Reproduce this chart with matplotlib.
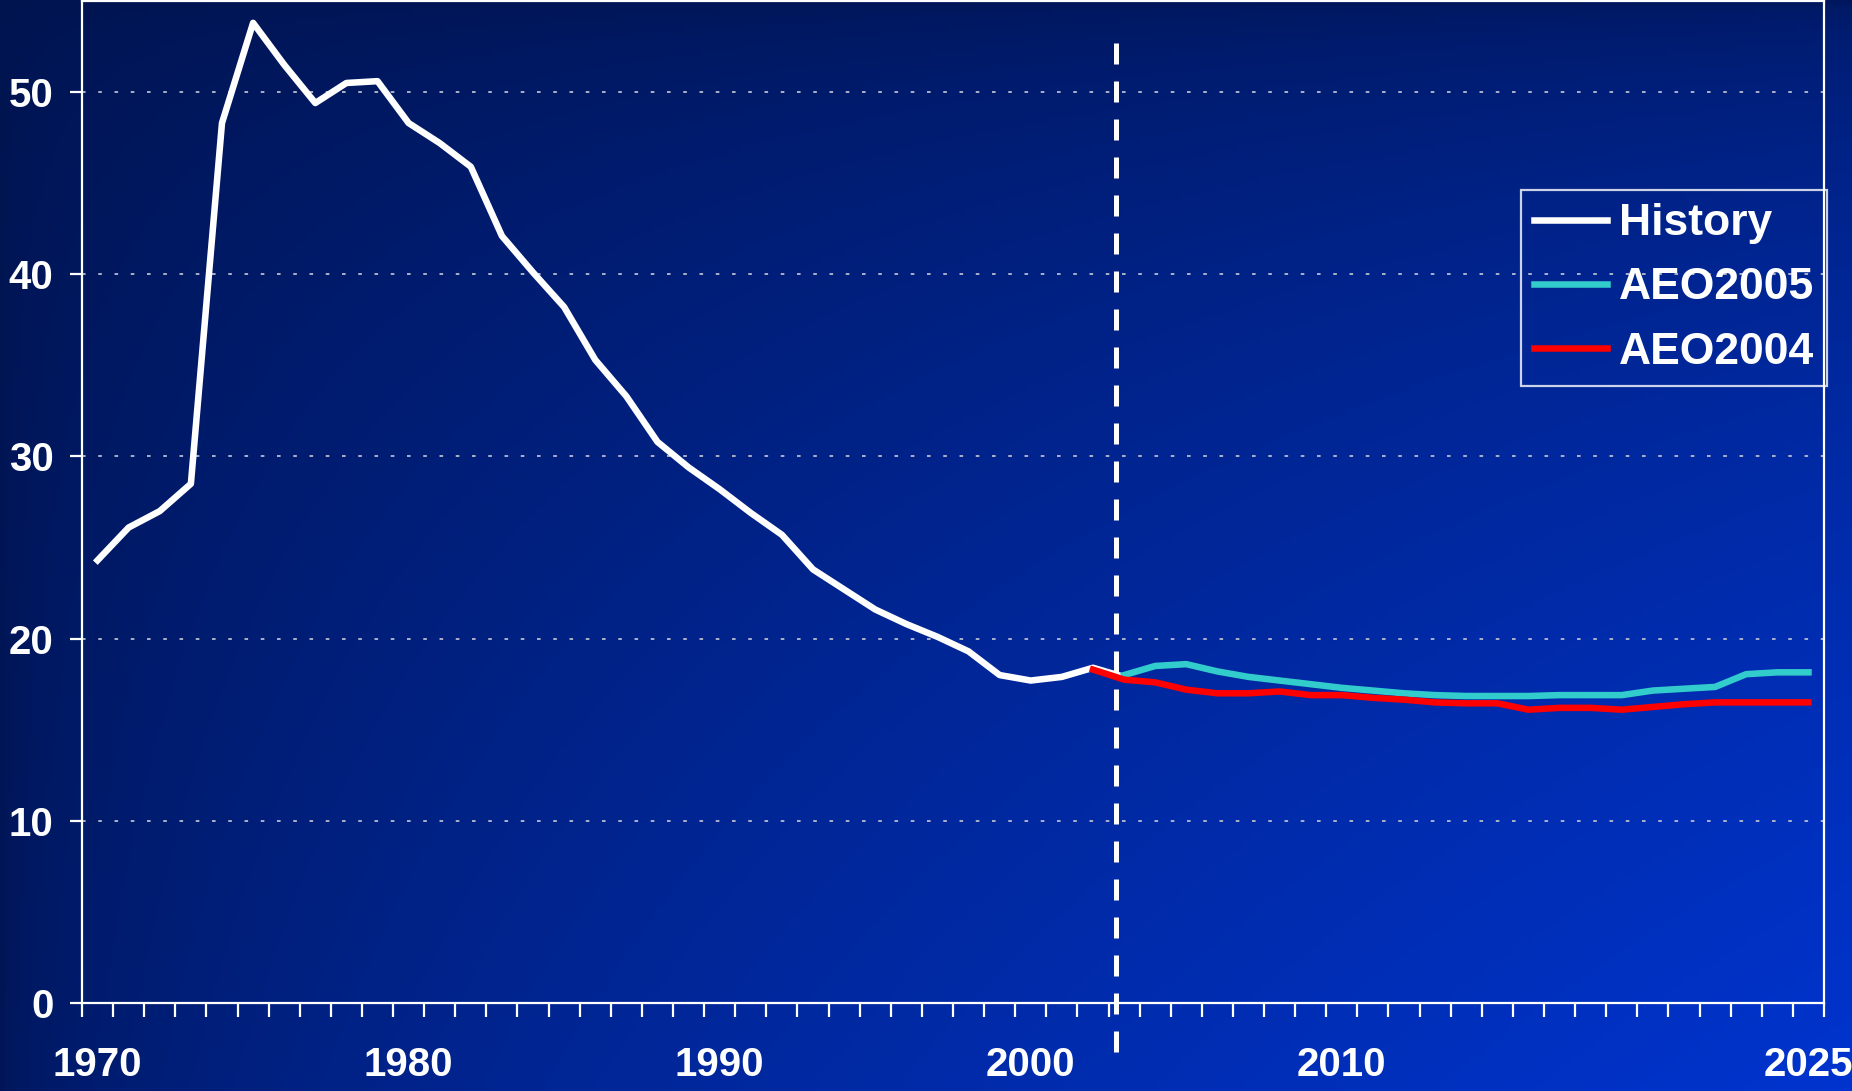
import numpy as np
import matplotlib
matplotlib.use("Agg")
from matplotlib import pyplot as plt

# History, 1970-2003
hist_years = list(range(1970, 2004))
hist_values = [24.3, 26.1, 27.0, 28.5, 48.3, 53.8, 51.5, 49.4, 50.5, 50.6,
               48.3, 47.2, 45.9, 42.1, 40.1, 38.2, 35.3, 33.3, 30.8, 29.4,
               28.2, 26.9, 25.7, 23.8, 22.7, 21.6, 20.8, 20.1, 19.3, 18.0,
               17.7, 17.9, 18.4, 17.9]

# AEO2005 projection, 2003-2025
aeo2005_years = list(range(2003, 2026))
aeo2005_values = [18.0, 18.5, 18.6, 18.2, 17.9, 17.7, 17.5, 17.3, 17.15, 17.0,
                  16.9, 16.85, 16.85, 16.85, 16.9, 16.9, 16.9, 17.15, 17.25,
                  17.35, 18.05, 18.15, 18.15]

# AEO2004 projection, 2002-2025
aeo2004_years = list(range(2002, 2026))
aeo2004_values = [18.3, 17.75, 17.6, 17.2, 17.0, 17.0, 17.1, 16.9, 16.9, 16.75,
                  16.65, 16.5, 16.45, 16.45, 16.1, 16.2, 16.2, 16.1, 16.25,
                  16.4, 16.5, 16.5, 16.5, 16.5]

x_labels = [1970, 1980, 1990, 2000, 2010, 2025]
y_ticks = [0, 10, 20, 30, 40, 50]
divider_year = 2002.75

W, H = 1852, 1091
fig = plt.figure(figsize=(W / 100, H / 100), dpi=100)
plt.rcParams['font.family'] = ['Liberation Sans', 'DejaVu Sans']

# background gradient: dark navy top-left to bright blue bottom-right
bg = fig.add_axes([0, 0, 1, 1], zorder=0)
gx, gy = np.meshgrid(np.linspace(0, 1, 400), np.linspace(0, 1, 240))
f = 0.82 * np.sqrt(gx * gy) + 0.12 * gx + 0.06 * gy
f = np.clip(f, 0, 1)
dark = np.array([0, 20, 80]) / 255
bright = np.array([0, 52, 206]) / 255
img = dark[None, None, :] + f[..., None] * (bright - dark)[None, None, :]
bg.imshow(img, aspect='auto', extent=[0, 1, 0, 1], origin='upper')
bg.axis('off')

left, right = 82 / W, 1824 / W
bottom, top = 1 - 1003 / H, 1 - 1 / H
ax = fig.add_axes([left, bottom, right - left, top - bottom], zorder=1)
ax.set_facecolor('none')

ax.plot(hist_years, hist_values, color='white', lw=4.7, label='History')
ax.plot(aeo2005_years, aeo2005_values, color='#33CCCC', lw=4.7, label='AEO2005')
ax.plot(aeo2004_years, aeo2004_values, color='#FF0000', lw=4.7, label='AEO2004')

ax.set_xlim(1969.5, 2025.5)
ax.set_ylim(0, 55)

# dashed divider, runs past the bottom of the plot
ax.plot([divider_year, divider_year], [52.7, -2.8], color='white', lw=3.6,
        linestyle=(0, (4.2, 3.4)), clip_on=False, zorder=5)

for s in ax.spines.values():
    s.set_color('white')
    s.set_linewidth(1.6)

# grid
for yv in y_ticks[1:]:
    ax.axhline(yv, color='#b8bcd0', lw=1.3, linestyle=(0, (2, 7)), zorder=0.5)

ax.set_yticks(y_ticks)
ax.tick_params(axis='y', direction='out', length=8.6, width=1.6, color='white',
               labelcolor='white', labelsize=29, pad=12)
for lab in ax.get_yticklabels():
    lab.set_fontweight('bold')

# x: ticks at category boundaries, labels at category centres
ax.set_xticks(np.arange(1969.5, 2026, 1.0))
ax.tick_params(axis='x', which='major', direction='out', length=10, width=1.6,
               color='white', labelbottom=False)
ax.set_xticks(x_labels, minor=True)
ax.set_xticklabels([str(v) for v in x_labels], minor=True)
ax.tick_params(axis='x', which='minor', length=0, pad=31, labelcolor='white',
               labelsize=29)
for lab in ax.get_xticklabels(minor=True):
    lab.set_fontweight('bold')

leg = fig.legend(loc='upper left', bbox_to_anchor=(1521 / W, 1 - 190 / H),
                 prop={'weight': 'bold', 'size': 32},
                 frameon=True, fancybox=False, facecolor='none', edgecolor='white',
                 labelcolor='white', handlelength=1.63, handletextpad=0.27,
                 labelspacing=0.52, borderpad=0.3, borderaxespad=0)
leg.get_frame().set_linewidth(1.6)
leg.set_zorder(10)

fig.savefig('out.png', dpi=100)
